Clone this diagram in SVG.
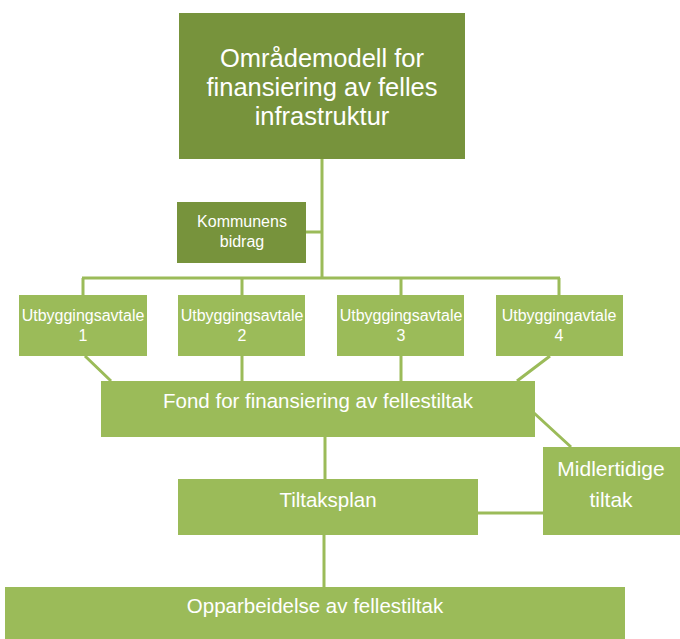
<svg xmlns="http://www.w3.org/2000/svg" width="680" height="639" viewBox="0 0 680 639">
<style>
.box{fill:#9BBB59}
.dark{fill:#77933C}
.t{fill:#FFFFFF;font-family:"Liberation Sans",Arial,sans-serif;text-anchor:middle}
.con{stroke:#9BBB59;stroke-width:3;fill:none}
</style>
<rect width="680" height="639" fill="#FFFFFF"/>
<g id="connectors">
<path class="con" d="M322,159 V278 M306,232 H322 M82,278 H560 M83,278 V295 M242,278 V295 M401,278 V295 M559,278 V295"/>
<path class="con" d="M85,356 L111,381 M242,356 V381 M401,356 V381 M550,356 L517,381"/>
<path class="con" d="M534,413 L571,447 M325,437 V479 M478,513 H543 M324,535 V587"/>
</g>
<g id="omrademodell">
<rect class="dark" x="179" y="13" width="286" height="146"/>
<text class="t" font-size="25.5"><tspan x="322" y="67">Områdemodell for</tspan><tspan x="322" y="96">finansiering av felles</tspan><tspan x="322" y="125">infrastruktur</tspan></text>
</g>
<g id="kommunens">
<rect class="dark" x="177" y="202" width="129" height="61"/>
<text class="t" font-size="16"><tspan x="242" y="227">Kommunens</tspan><tspan x="242" y="247">bidrag</tspan></text>
</g>
<g id="utb1">
<rect class="box" x="19" y="295" width="128" height="61"/>
<text class="t" font-size="16"><tspan x="83" y="321">Utbyggingsavtale</tspan><tspan x="83" y="341">1</tspan></text>
</g>
<g id="utb2">
<rect class="box" x="178" y="295" width="127" height="61"/>
<text class="t" font-size="16"><tspan x="242" y="321">Utbyggingsavtale</tspan><tspan x="242" y="341">2</tspan></text>
</g>
<g id="utb3">
<rect class="box" x="337" y="295" width="127" height="61"/>
<text class="t" font-size="16"><tspan x="401" y="321">Utbyggingsavtale</tspan><tspan x="401" y="341">3</tspan></text>
</g>
<g id="utb4">
<rect class="box" x="496" y="295" width="127" height="61"/>
<text class="t" font-size="16"><tspan x="559" y="321">Utbyggingavtale</tspan><tspan x="559" y="341">4</tspan></text>
</g>
<g id="fond">
<rect class="box" x="101" y="381" width="434" height="56"/>
<text class="t" font-size="20.5" x="318" y="408">Fond for finansiering av fellestiltak</text>
</g>
<g id="tiltaksplan">
<rect class="box" x="178" y="479" width="300" height="56"/>
<text class="t" font-size="20.5" x="328" y="507">Tiltaksplan</text>
</g>
<g id="midlertidige">
<rect class="box" x="543" y="447" width="137" height="88"/>
<text class="t" font-size="21"><tspan x="611" y="476">Midlertidige</tspan><tspan x="611" y="507">tiltak</tspan></text>
</g>
<g id="opparbeidelse">
<rect class="box" x="5" y="587" width="620" height="52"/>
<text class="t" font-size="20.5" x="315" y="613">Opparbeidelse av fellestiltak</text>
</g>
</svg>
